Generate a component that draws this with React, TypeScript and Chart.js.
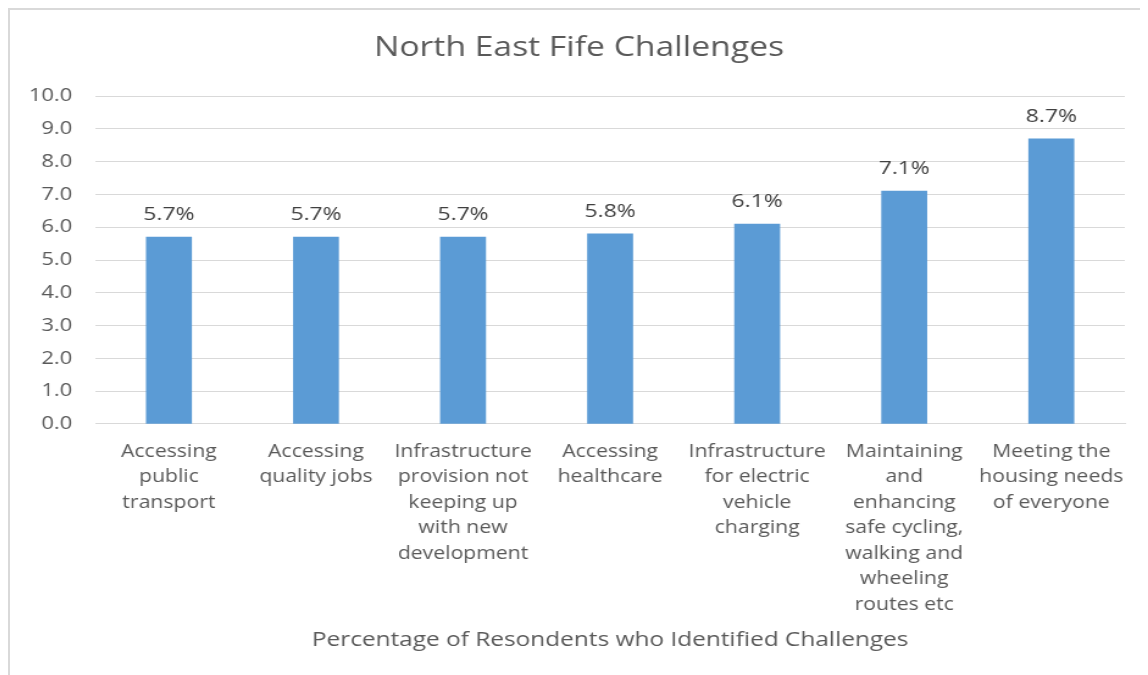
import React, { useEffect, useRef } from "react";
import { Chart, registerables } from "chart.js";

Chart.register(...registerables);

const categories: string[][] = [
  ["Accessing", "public", "transport"],
  ["Accessing", "quality jobs"],
  ["Infrastructure", "provision not", "keeping up", "with new", "development"],
  ["Accessing", "healthcare"],
  ["Infrastructure", "for electric", "vehicle", "charging"],
  ["Maintaining", "and", "enhancing", "safe cycling,", "walking and", "wheeling", "routes etc"],
  ["Meeting the", "housing needs", "of everyone"],
];
const values: number[] = [5.7, 5.7, 5.7, 5.8, 6.1, 7.1, 8.7];
const chartTitle = "North East Fife Challenges";
const xAxisTitle = "Percentage of Resondents who Identified Challenges";

const FONT = "'Open Sans', sans-serif";
const INNER_W = 933;
const OUTER_W = 1138;
const H = 665;

const dataLabelPlugin = {
  id: "dataLabels",
  afterDatasetsDraw(chart: any) {
    const ctx = chart.ctx;
    const meta = chart.getDatasetMeta(0);
    ctx.save();
    ctx.fillStyle = "#404040";
    ctx.font = `18.8px ${FONT}`;
    ctx.textAlign = "center";
    ctx.textBaseline = "middle";
    meta.data.forEach((bar: any, i: number) => {
      ctx.fillText(values[i].toFixed(1) + "%", bar.x, bar.y - 22.5);
    });
    ctx.restore();
  },
};

export default function App() {
  const ref = useRef<HTMLCanvasElement>(null);
  useEffect(() => {
    if (!ref.current) return;
    const chart = new Chart(ref.current, {
      type: "bar",
      data: {
        labels: categories,
        datasets: [
          {
            data: values,
            backgroundColor: "#5b9bd5",
            borderWidth: 0,
            barThickness: 37,
          },
        ],
      },
      options: {
        animation: false,
        responsive: false,
        maintainAspectRatio: false,
        layout: { padding: { left: 0, right: 0, top: 0, bottom: 23 } },
        plugins: {
          legend: { display: false },
          tooltip: { enabled: false },
          title: {
            display: true,
            text: chartTitle,
            color: "#595959",
            font: { family: FONT, size: 27.6, weight: "normal" as any, lineHeight: 1.2 },
            padding: { top: 21.1, bottom: 31.9 },
          },
        },
        scales: {
          x: {
            grid: { display: false, drawTicks: false },
            border: { color: "#d9d9d9", width: 1 },
            ticks: {
              color: "#595959",
              font: { family: FONT, size: 17.4, lineHeight: 1.466 },
              padding: 15,
              maxRotation: 0,
              autoSkip: false,
            },
            title: {
              display: true,
              text: xAxisTitle,
              color: "#595959",
              font: { family: FONT, size: 20, lineHeight: 1.2 },
              padding: { top: -4.5, bottom: 0 },
            },
          },
          y: {
            min: 0,
            max: 10,
            grid: { color: "#d9d9d9", drawTicks: false },
            border: { display: false },
            ticks: {
              stepSize: 1,
              color: "#595959",
              font: { family: FONT, size: 18 },
              padding: 19,
              callback: (v: any) => Number(v).toFixed(1),
            },
            afterFit: (scale: any) => {
              scale.width = 70;
            },
          },
          yRight: {
            position: "right",
            min: 0,
            max: 10,
            grid: { display: false, drawTicks: false },
            border: { display: false },
            ticks: { display: false },
            afterFit: (scale: any) => {
              scale.width = 19;
            },
          },
        },
      },
      plugins: [dataLabelPlugin],
    });
    return () => chart.destroy();
  }, []);
  return (
    <div
      style={{
        width: 1140,
        height: 667,
        borderTop: "2px solid #d9d9d9",
        borderLeft: "2px solid #d9d9d9",
        boxSizing: "border-box",
        background: "#fff",
        overflow: "hidden",
      }}
    >
      <div
        style={{
          width: INNER_W,
          height: H,
          transform: `scaleX(${OUTER_W / INNER_W})`,
          transformOrigin: "0 0",
        }}
      >
        <canvas ref={ref} width={INNER_W} height={H} style={{ display: "block" }} />
      </div>
    </div>
  );
}
